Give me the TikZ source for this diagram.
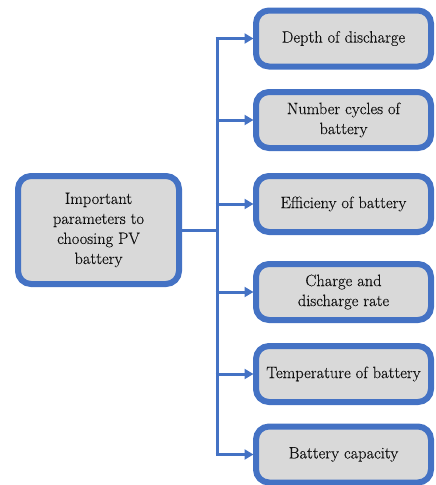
\documentclass[tikz,border=0pt]{standalone}
\usepackage{fontspec}
\newfontfamily\boxfont{Latin Modern Roman}[FakeBold=0.3]
\usetikzlibrary{arrows.meta}
\definecolor{bblue}{HTML}{4472C4}
\definecolor{bgray}{HTML}{D9D9D9}
\definecolor{btext}{HTML}{111111}
\begin{document}
\begin{tikzpicture}[x=1pt,y=-1pt,
  box/.style={draw=bblue, fill=bgray, line width=6pt, rounded corners=13pt,
    align=center, text=btext, inner sep=2pt,
    font=\boxfont\fontsize{16.4}{20}\selectfont},
  rbox/.style={box, minimum width=175pt, minimum height=56pt},
  conn/.style={draw=bblue, line width=3pt},
  arr/.style={conn, -{Triangle[length=9pt,width=10pt]}, shorten >=-0.5pt}]
\useasboundingbox (0,0) rectangle (436,485);
\node[box, minimum width=161pt, minimum height=108pt] (L) at (98.5,230) {Important\\parameters to\\choosing PV\\battery};
\node[rbox] (R1) at (343.5,38.5) {Depth of discharge};
\node[rbox] (R2) at (343.5,120) {Number cycles of\\battery};
\node[rbox] (R3) at (343.5,204) {Efficieny of battery};
\node[rbox] (R4) at (343.5,292) {Charge and\\discharge rate};
\node[rbox] (R5) at (343.5,374) {Temperature of battery};
\node[rbox] (R6) at (343.5,454.5) {Battery capacity};
\coordinate (sx) at (217,0);
\coordinate (top) at (R1.west -| sx);
\coordinate (bot) at (R6.west -| sx);
\draw[conn] ([yshift=1.5pt]top) -- ([yshift=-1.5pt]bot);
\draw[conn] (L.east) -- (L.east -| sx);
\foreach \n in {R1,R2,R3,R4,R5,R6}
  \draw[arr] ([xshift=-1.5pt]\n.west -| sx) -- (\n.west);
\end{tikzpicture}
\end{document}
